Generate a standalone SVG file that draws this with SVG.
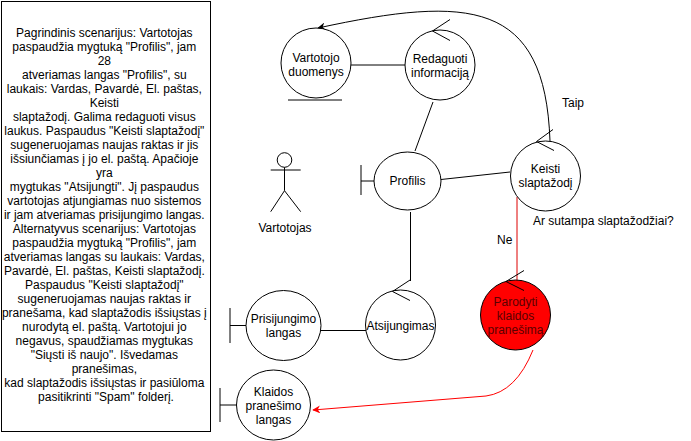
<svg xmlns="http://www.w3.org/2000/svg" width="691" height="441" viewBox="0 0 691 441">
<defs>
<style>
.s{fill:none;stroke:#000;stroke-width:1}
.n{fill:#fff;stroke:#000;stroke-width:1}
text{font-family:"Liberation Sans",Arial,sans-serif;font-size:12px;fill:#000}
.c{text-anchor:middle}
.d{fill:#5a0000}
</style>
<marker id="ab" viewBox="0 0 10 10" refX="9" refY="5" markerWidth="8" markerHeight="8" orient="auto" markerUnits="userSpaceOnUse"><path d="M0,0 L10,5 L0,10 L3,5 Z" fill="#000"/></marker>
<marker id="ar" viewBox="0 0 10 10" refX="9" refY="5" markerWidth="8" markerHeight="8" orient="auto" markerUnits="userSpaceOnUse"><path d="M0,0 L10,5 L0,10 L3,5 Z" fill="#f00"/></marker>
</defs>
<rect width="691" height="441" fill="#fff"/>

<g id="desc">
<rect x="1.5" y="1.5" width="209" height="430" class="n"/>
<text class="c" x="106">
<tspan x="106" y="37">Pagrindinis scenarijus: Vartotojas</tspan>
<tspan x="106" y="51">paspaudžia mygtuką "Profilis", jam</tspan>
<tspan x="106" y="65">28</tspan>
<tspan x="106" y="79">atveriamas langas "Profilis", su</tspan>
<tspan x="106" y="93">laukais: Vardas, Pavardė, El. paštas,</tspan>
<tspan x="106" y="107">Keisti</tspan>
<tspan x="106" y="121">slaptažodį. Galima redaguoti visus</tspan>
<tspan x="106" y="135">laukus. Paspaudus "Keisti slaptažodį"</tspan>
<tspan x="106" y="149">sugeneruojamas naujas raktas ir jis</tspan>
<tspan x="106" y="163">išsiunčiamas į jo el. paštą. Apačioje</tspan>
<tspan x="106" y="177">yra</tspan>
<tspan x="106" y="191">mygtukas "Atsijungti". Jį paspaudus</tspan>
<tspan x="106" y="205">vartotojas atjungiamas nuo sistemos</tspan>
<tspan x="106" y="219">ir jam atveriamas prisijungimo langas.</tspan>
<tspan x="106" y="233">Alternatyvus scenarijus: Vartotojas</tspan>
<tspan x="106" y="247">paspaudžia mygtuką "Profilis", jam</tspan>
<tspan x="106" y="261">atveriamas langas su laukais: Vardas,</tspan>
<tspan x="106" y="275">Pavardė, El. paštas, Keisti slaptažodį.</tspan>
<tspan x="106" y="289">Paspaudus "Keisti slaptažodį"</tspan>
<tspan x="106" y="303">sugeneruojamas naujas raktas ir</tspan>
<tspan x="106" y="317">pranešama, kad slaptažodis išsiųstas į</tspan>
<tspan x="106" y="331">nurodytą el. paštą. Vartotojui jo</tspan>
<tspan x="106" y="345">negavus, spaudžiamas mygtukas</tspan>
<tspan x="106" y="359">"Siųsti iš naujo". Išvedamas</tspan>
<tspan x="106" y="373">pranešimas,</tspan>
<tspan x="106" y="387">kad slaptažodis išsiųstas ir pasiūloma</tspan>
<tspan x="106" y="401">pasitikrinti "Spam" folderį.</tspan>
</text>
</g>

<g id="connectors">
<line x1="351" y1="65" x2="405" y2="65" class="s"/>
<line x1="433" y1="102" x2="415" y2="151" class="s"/>
<line x1="441" y1="179.5" x2="510" y2="172" class="s"/>
<line x1="410.5" y1="212" x2="410.5" y2="281" class="s"/>
<line x1="321" y1="330.5" x2="366" y2="330.5" class="s"/>
<path d="M550,141 C545,0 470,-5 318,28" class="s" marker-end="url(#ab)"/>
<line x1="517" y1="197" x2="517" y2="281" stroke="#d00" stroke-width="1"/>
<path d="M533,350 Q516,392 486,396 L313,410" fill="none" stroke="#f00" stroke-width="1" marker-end="url(#ar)"/>
<text x="562" y="107">Taip</text>
<text x="533" y="225">Ar sutampa slaptažodžiai?</text>
<text x="497" y="244">Ne</text>
</g>

<g id="vartotojo-duomenys">
<circle cx="316" cy="63" r="35" class="n"/>
<line x1="288" y1="100" x2="342" y2="100" class="s"/>
<text class="c" x="316" y="62">Vartotojo</text>
<text class="c" x="316" y="76">duomenys</text>
</g>

<g id="redaguoti">
<circle cx="440" cy="65" r="35" class="n"/>
<path d="M450,19.5 L432.5,31 L450,40.5" class="s"/>
<text class="c" x="440" y="63">Redaguoti</text>
<text class="c" x="440" y="77">informaciją</text>
</g>

<g id="profilis">
<ellipse cx="407.5" cy="181" rx="33.5" ry="29" class="n"/>
<path d="M361,165 L361,195 M361,181 L374,181" class="s"/>
<text class="c" x="407.5" y="185">Profilis</text>
</g>

<g id="keisti">
<circle cx="545.5" cy="176" r="35" class="n"/>
<path d="M553,129.5 L536.5,141.5 L554,150.5" class="s"/>
<text class="c" x="545.5" y="173">Keisti</text>
<text class="c" x="545.5" y="187">slaptažodį</text>
</g>

<g id="vartotojas">
<circle cx="284.5" cy="160" r="7.3" class="n"/>
<path d="M284.5,167.3 L284.5,190.7 M270.7,170 L300.7,170 M284.5,190.7 L270.7,211.7 M284.5,190.7 L300.7,211.7" class="s"/>
<text class="c" x="285" y="232">Vartotojas</text>
</g>

<g id="parodyti">
<circle cx="515.5" cy="315" r="35" fill="#f00" stroke="#000" stroke-width="1"/>
<path d="M524,270.5 L506,281.5 L524,290.5" class="s"/>
<text class="c d" x="515.5" y="305.5">Parodyti</text>
<text class="c d" x="515.5" y="319.5">klaidos</text>
<text class="c d" x="515.5" y="334">pranešimą</text>
</g>

<g id="atsijungimas">
<circle cx="400.5" cy="325" r="35" class="n"/>
<path d="M410,280 L392.5,291.5 L410,300.5" class="s"/>
<text class="c" x="400.5" y="330">Atsijungimas</text>
</g>

<g id="prisijungimo">
<ellipse cx="283.5" cy="325.5" rx="37.5" ry="35" class="n"/>
<path d="M230,308 L230,343 M230,325.5 L246,325.5" class="s"/>
<text class="c" x="283.5" y="323">Prisijungimo</text>
<text class="c" x="283.5" y="337">langas</text>
</g>

<g id="klaidos">
<ellipse cx="273.5" cy="405" rx="37" ry="35" class="n"/>
<path d="M220,388 L220,422 M220,405 L236.5,405" class="s"/>
<text class="c" x="273.5" y="395.5">Klaidos</text>
<text class="c" x="273.5" y="409.5">pranešimo</text>
<text class="c" x="273.5" y="424">langas</text>
</g>
</svg>
